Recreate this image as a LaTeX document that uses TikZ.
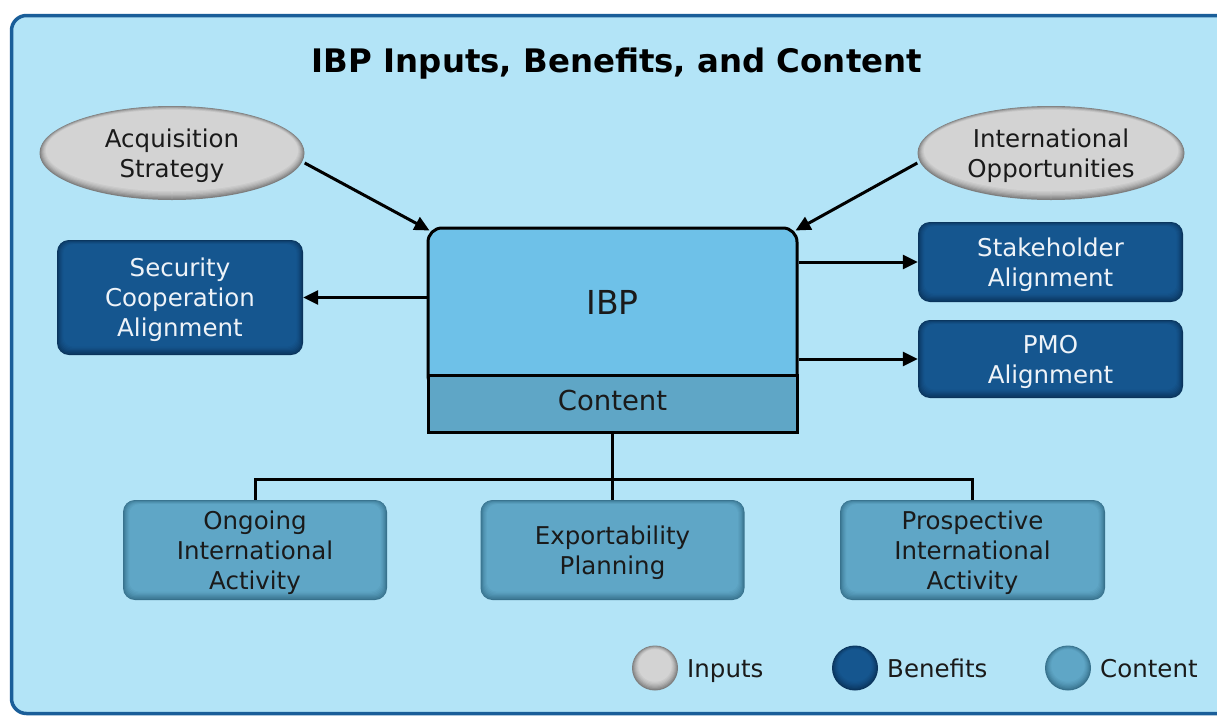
\documentclass[tikz,border=0pt]{standalone}
\usepackage{fontspec}
\setmainfont{DejaVu Sans}
\usetikzlibrary{arrows.meta,calc,shapes.geometric}

\definecolor{bgblue}{HTML}{B3E4F7}
\definecolor{frameblue}{HTML}{1A5E99}
\definecolor{darkfill}{HTML}{15568F}
\definecolor{darkedge}{HTML}{0A345C}
\definecolor{contfill}{HTML}{5FA6C6}
\definecolor{contedge}{HTML}{37718C}
\definecolor{ibpfill}{HTML}{6EC1E8}
\definecolor{grayfill}{HTML}{D3D3D3}
\definecolor{grayedge}{HTML}{7E7E7E}
\definecolor{inktext}{HTML}{1A1A1A}
\definecolor{lighttext}{HTML}{EEF3F8}

\tikzset{
  % rounded box with a soft darker rim: #1 = inner colour, #2 = rim colour
  rimbox/.style 2 args={rectangle, rounded corners=12pt, inner sep=0pt, fill=#2,
    path picture={
      \foreach \i/\k in {1/20,2/38,3/54,4/68,5/80,6/90,7/100}{
        \fill[#1!\k!#2, rounded corners=10pt]
          ([shift={(\i*0.9pt,\i*1.2pt)}]path picture bounding box.south west) rectangle
          ([shift={(-\i*0.9pt,-\i*0.6pt)}]path picture bounding box.north east);
      }}},
  % ellipse with the same kind of rim
  rimellipse/.style 2 args={ellipse, inner sep=0pt, fill=#2,
    path picture={
      \foreach \i/\k in {1/20,2/38,3/54,4/68,5/80,6/90,7/100}{
        \fill[#1!\k!#2] let \p1=(path picture bounding box.north east),
                            \p2=(path picture bounding box.center) in
          (\x2,\y2+\i*0.35pt) ellipse [x radius=\x1-\x2-\i*0.9pt, y radius=\y1-\y2-\i*0.9pt];
      }}},
  boxtext/.style={font=\fontsize{24.5}{30}\selectfont, align=center, text depth=0pt},
  inputnode/.style={rimellipse={grayfill}{grayedge}, boxtext, text=inktext,
    minimum width=265pt, minimum height=94pt},
  benefitnode/.style={rimbox={darkfill}{darkedge}, boxtext, text=lighttext},
  contentnode/.style={rimbox={contfill}{contedge}, boxtext, text=inktext,
    minimum width=264pt, minimum height=100pt},
  legendtext/.style={font=\fontsize{24.5}{30}\selectfont, text=inktext, inner sep=0pt, anchor=base west},
  arr/.style={line width=3pt, draw=black, -{Triangle[length=15pt,width=14pt]}},
  link/.style={line width=3pt, draw=black},
}

\begin{document}
\begin{tikzpicture}[x=1pt,y=-1pt]
  \useasboundingbox (0,0) rectangle (1217,715);
  \clip (0,0) rectangle (1217,715);
  \fill[white] (0,0) rectangle (1217,715);

  % outer panel
  \draw[line width=3.5pt, draw=frameblue, fill=bgblue, rounded corners=15pt]
    (11.5,15.5) rectangle (1245,713.5);

  % title
  \node[font=\bfseries\fontsize{32.4}{38}\selectfont, text=black] (title) at (617,64)
    {IBP Inputs, Benefits, and Content};

  % inputs
  \node[inputnode] (acq) at (172,153) {Acquisition\\Strategy};
  \node[inputnode, minimum width=267pt] (io) at (1051,153) {International\\Opportunities};

  % central plan box with its content band
  \node[rectangle, rounded corners=14pt, fill=ibpfill, draw=black, line width=3pt,
        minimum width=369pt, minimum height=162pt, text depth=14pt,
        font=\fontsize{33}{40}\selectfont, text=inktext] (ibp) at (612.5,309) {IBP};
  \node[rectangle, fill=contfill, draw=black, line width=3pt,
        minimum width=369pt, minimum height=57pt, text depth=6pt,
        font=\fontsize{27.5}{33}\selectfont, text=inktext] (content) at (612.5,403.5) {Content};

  % benefits
  \node[benefitnode, minimum width=246pt, minimum height=115pt] (sec) at (180,297.5)
    {Security\\Cooperation\\Alignment};
  \node[benefitnode, minimum width=265pt, minimum height=80pt] (stk) at (1050.5,262)
    {Stakeholder\\Alignment};
  \node[benefitnode, minimum width=265pt, minimum height=78pt] (pmo) at (1050.5,359)
    {PMO\\Alignment};

  % content items
  \node[contentnode] (ogn) at (255,550) {Ongoing\\International\\Activity};
  \node[contentnode] (exp) at (612.5,550) {Exportability\\Planning};
  \node[contentnode, minimum width=265pt] (pia) at (972.5,550) {Prospective\\International\\Activity};

  % connectors
  \draw[arr] ([yshift=-10pt]acq.east) -- ([shift={(3pt,-4pt)}]ibp.north west);
  \draw[arr] ([yshift=-10pt]io.west) -- ([shift={(-3pt,-4pt)}]ibp.north east);
  \draw[arr] (sec.east -| ibp.west) -- (sec.east);
  \draw[arr] (stk.west -| ibp.east) -- (stk.west);
  \draw[arr] (pmo.west -| ibp.east) -- (pmo.west);

  \draw[link] (content.south) -- (exp.north);
  \draw[link] (ogn.north) -- ++(0,-20) -| (pia.north);

  % legend
  \node[rimellipse={grayfill}{grayedge}, minimum width=46pt, minimum height=45pt] (lgin) at (655,668) {};
  \node[legendtext] (lgintxt) at (687,677) {Inputs};
  \node[rimellipse={darkfill}{darkedge}, minimum width=46pt, minimum height=45pt] (lgben) at (855,668) {};
  \node[legendtext] (lgbentxt) at (887,677) {Benefits};
  \node[rimellipse={contfill}{contedge}, minimum width=46pt, minimum height=45pt] (lgcon) at (1068,668) {};
  \node[legendtext] (lgcontxt) at (1100,677) {Content};
\end{tikzpicture}
\end{document}
